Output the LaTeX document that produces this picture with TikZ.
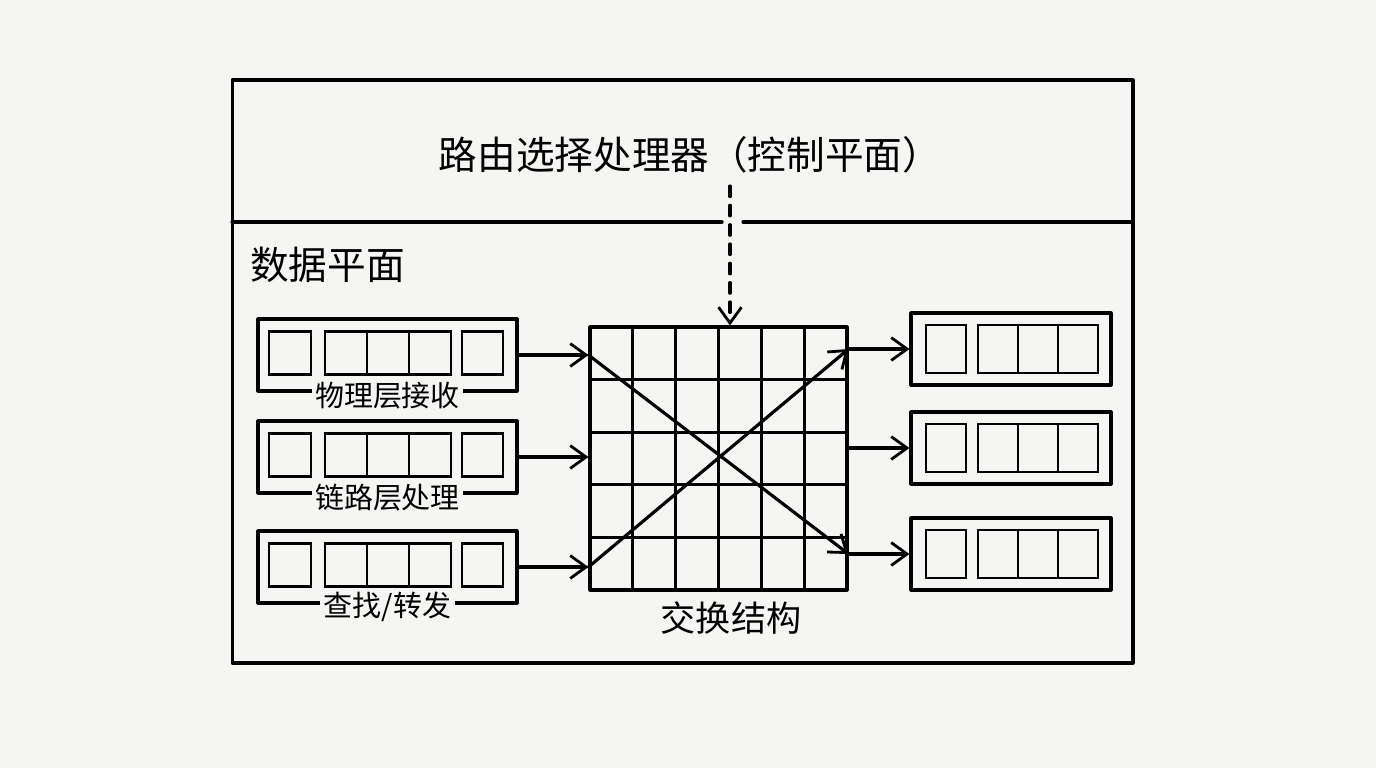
\documentclass[tikz,border=0pt]{standalone}
\usepackage{fontspec}
\newfontfamily\cjk{Noto Sans CJK SC}
\usetikzlibrary{arrows.meta,positioning}
\definecolor{paper}{RGB}{245,245,243}

\tikzset{
  ink/.style={line width=1.8pt,line join=round,line cap=round},
  arr/.style={ink,-{Straight Barb[length=9pt,width=13pt,line width=1.6pt]}},
  buf/.style={ink,draw,minimum height=1.44cm,inner sep=0pt},
  slot/.style={draw,line width=1.6pt,minimum width=0.84cm,minimum height=0.86cm,inner sep=0pt},
  oslot/.style={slot,minimum width=0.8cm,minimum height=0.96cm},
  tag/.style={font=\cjk\fontsize{16.5}{18}\selectfont,fill=paper,inner sep=2pt},
  big/.style={font=\cjk\fontsize{22}{26}\selectfont},
}

\begin{document}
\begin{tikzpicture}[x=0.02cm,y=-0.02cm]
\fill[paper] (0,0) rectangle (1376,768);
\useasboundingbox (0,0) rectangle (1376,768);

% router frame, control plane on top
\node[ink,draw,minimum width=18.02cm,minimum height=11.66cm,inner sep=0pt] (frame) at (682.5,371.5) {};
\draw[ink] (232,222) -- (722,222) (743,222) -- (1133,222);
\node[big] (ctrl) at (690,155) {路由选择处理器（控制平面）};
\node[big,anchor=west] (data) at (244,265) {数据平面};

% input ports
\foreach \n/\y/\t in {1/355/物理层接收,2/457/链路层处理,3/567/{查找/转发}}{
  \node[buf,minimum width=5.18cm] (in\n) at (387.5,\y) {};
  \node[slot] (in\n-a) at (290,\y-2) {};
  \foreach \k in {0,1,2}
    \node[slot] (in\n-b\k) at (346+\k*42,\y-2) {};
  \node[slot,minimum width=0.82cm] (in\n-c) at (482.5,\y-2) {};
  \node[tag,yshift=-1.5pt] (lab\n) at (in\n.south) {\t};
}

% output ports
\foreach \n/\y in {1/349,2/448,3/554}{
  \node[buf,minimum width=4cm] (out\n) at (1011,\y) {};
  \node[oslot] (out\n-a) at (946,\y) {};
  \foreach \k in {0,1,2}
    \node[oslot] (out\n-b\k) at (998+\k*40,\y) {};
}

% switching fabric
\node[ink,draw,minimum width=5.14cm,minimum height=5.26cm,inner sep=0pt] (xbar) at (718.5,458.5) {};
\foreach \i in {1,...,5}
  \draw[line width=1.6pt] (590+\i*42.83,327) -- (590+\i*42.83,590);
\foreach \j in {1,...,4}
  \draw[line width=1.6pt] (590,327+\j*52.6) -- (847,327+\j*52.6);
\node[font=\cjk\fontsize{20}{24}\selectfont] (xlab) at (731,618) {交换结构};

% connections
\foreach \n in {1,2,3}{
  \draw[arr] (in\n.east) -- (in\n.east -| xbar.west);
  \draw[arr] (out\n.west -| xbar.east) -- (out\n.west);
}
\draw[arr] (in1.east -| xbar.west) -- (out3.west -| xbar.east);
\draw[arr] (in3.east -| xbar.west) -- (out1.west -| xbar.east);
\coordinate (tap) at (730,186);
\draw[arr,dash pattern=on 6pt off 5pt] (tap) -- (tap |- xbar.north);
\end{tikzpicture}
\end{document}
